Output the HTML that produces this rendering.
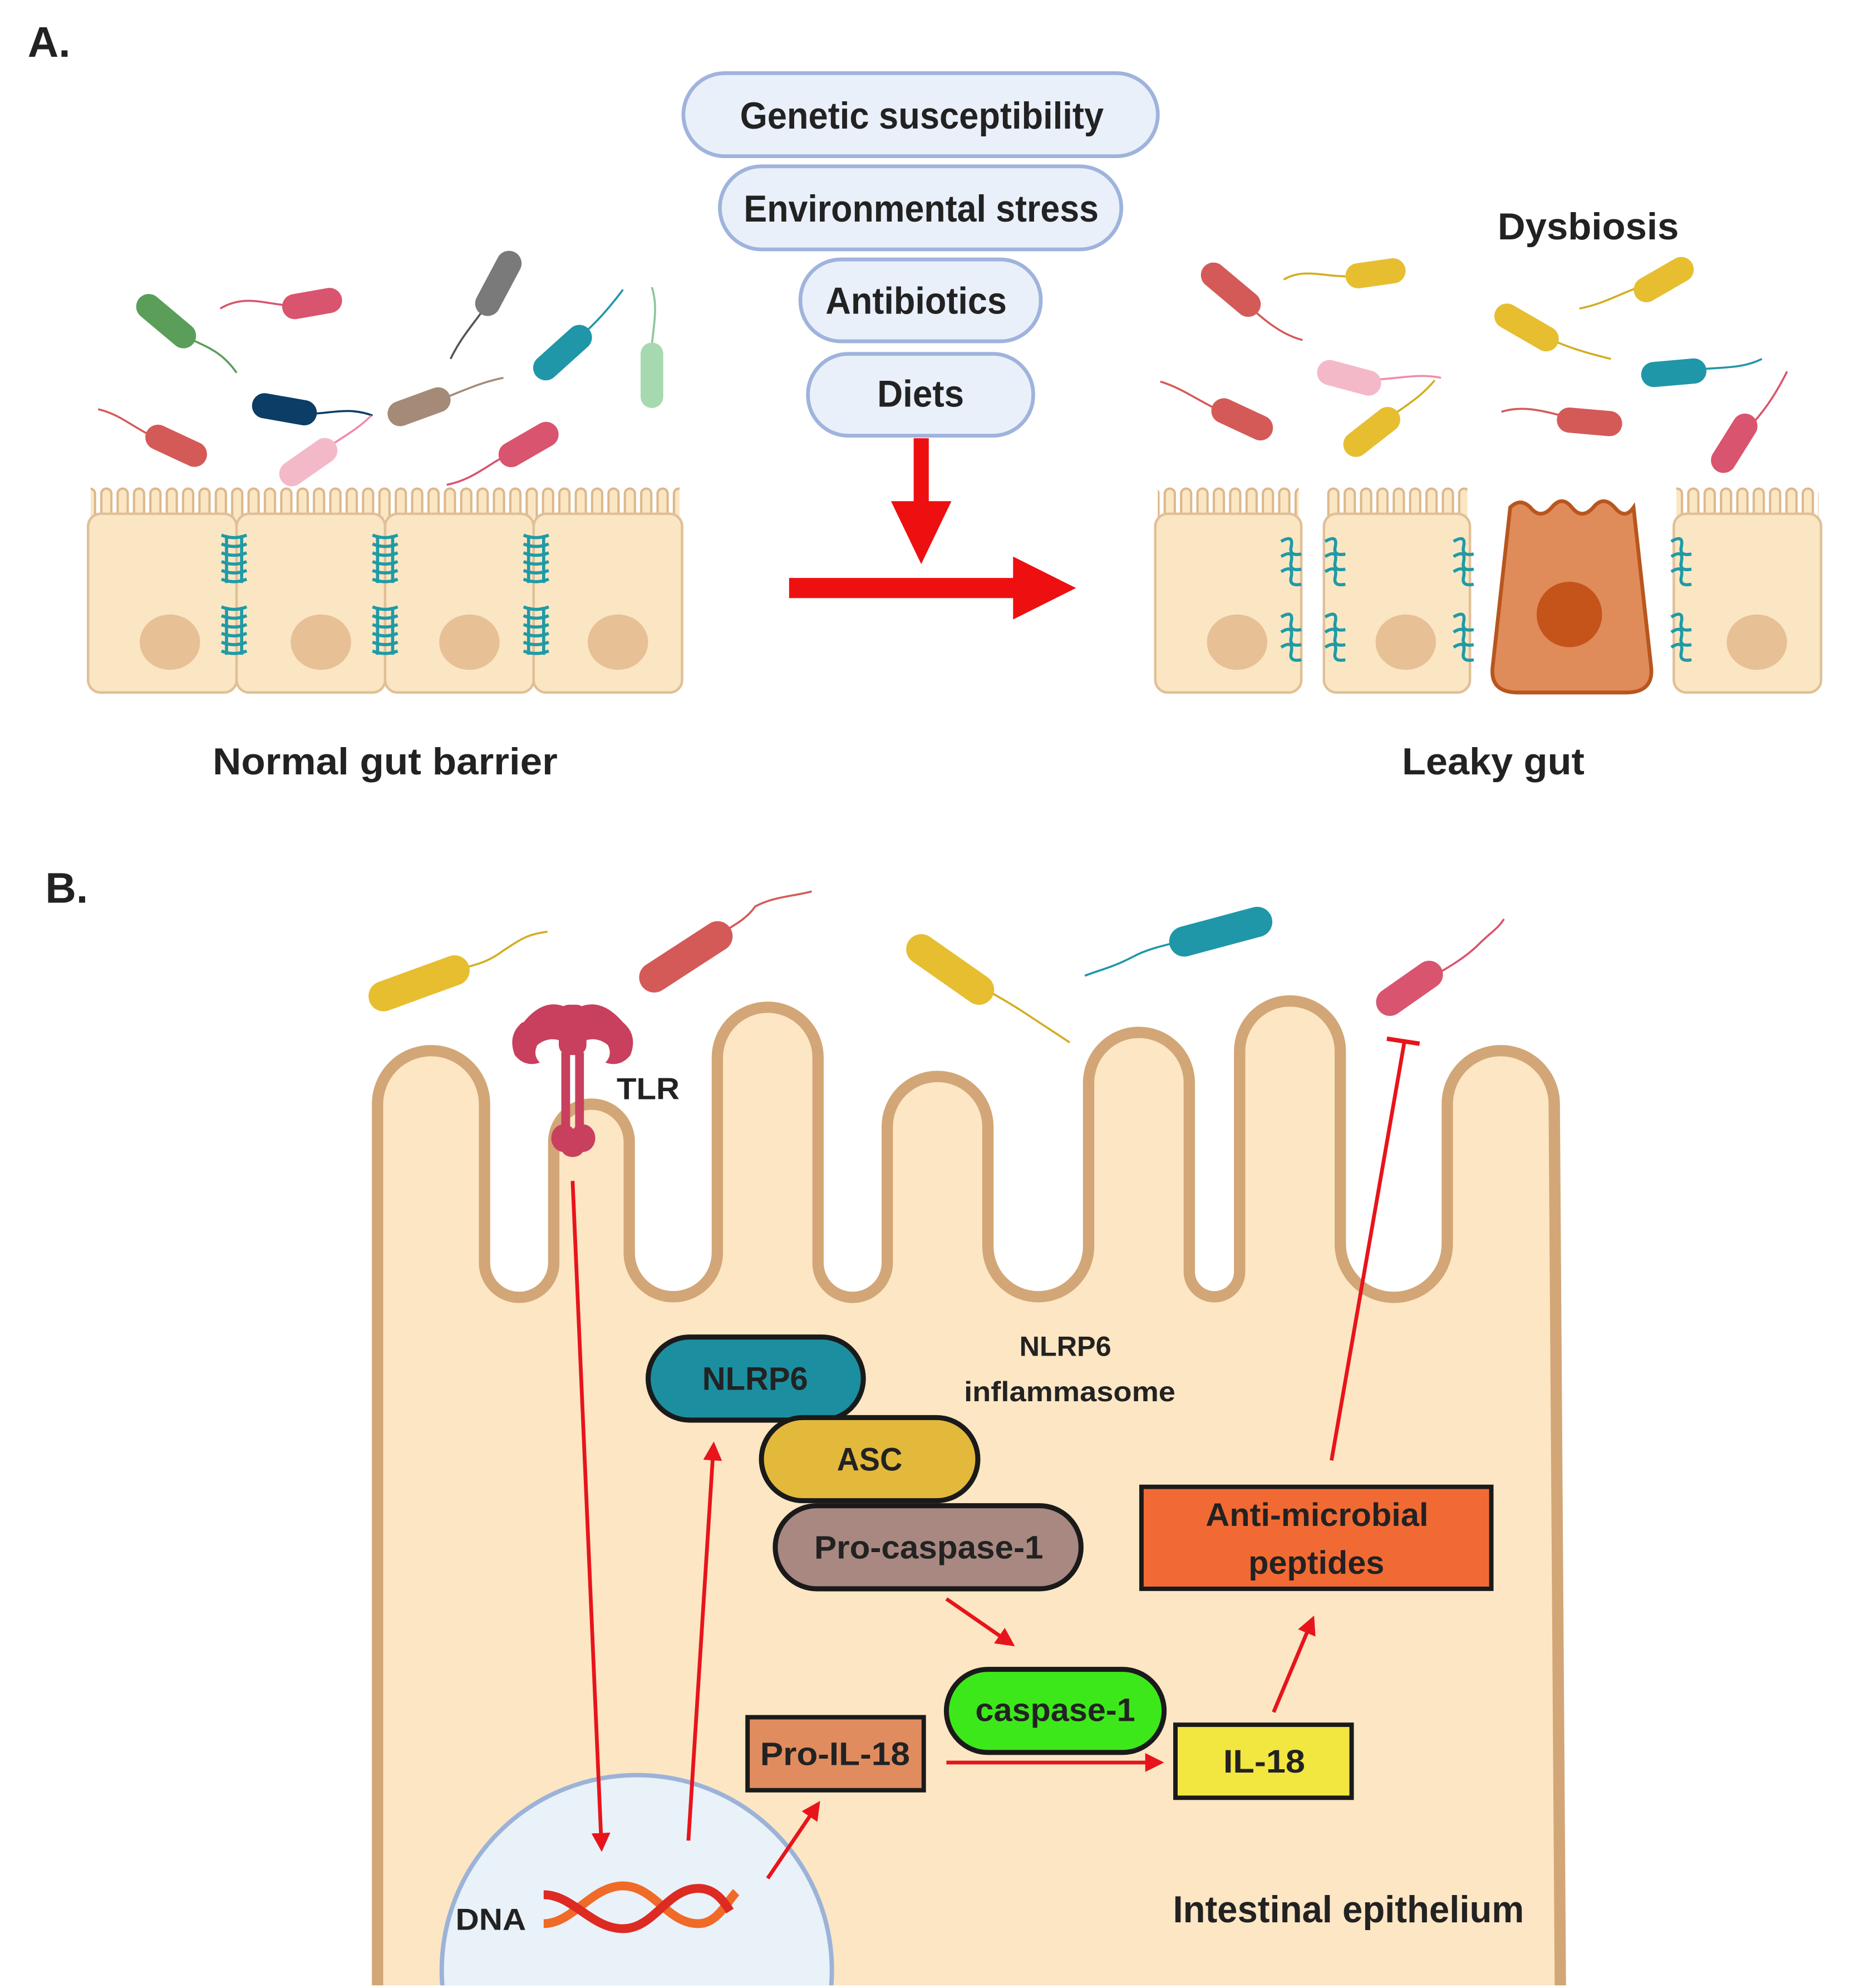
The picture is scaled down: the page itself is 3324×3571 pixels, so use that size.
<!DOCTYPE html>
<html><head><meta charset="utf-8"><style>
html,body{margin:0;padding:0;background:#fff;overflow:hidden;width:3324px;height:3571px;}
svg{display:block;}
text{font-family:"Liberation Sans",sans-serif;font-weight:bold;fill:#222;}
</style></head><body>
<svg width="3324" height="3571" viewBox="0 0 1470 1579" xmlns="http://www.w3.org/2000/svg">
<defs>
<pattern id="mv" x="0" y="386" width="13" height="30" patternUnits="userSpaceOnUse">
<path d="M2.5,30 L2.5,6 A4,4 0 0 1 10.5,6 L10.5,30" fill="#fbe6c4" stroke="#dcb88a" stroke-width="1.8"/>
</pattern>
<clipPath id="clipB"><rect x="0" y="700" width="1470" height="877"/></clipPath>
<marker id="ah" viewBox="0 0 10 10" refX="8" refY="5" markerWidth="5" markerHeight="5" orient="auto"><path d="M0,0 L10,5 L0,10 z" fill="#e8141b"/></marker>
</defs>

<!-- ===== Part A ===== -->
<text x="22" y="45" font-size="34">A.</text>

<g stroke="#9fb3dc" stroke-width="3" fill="#e9f0fa">
<rect x="543" y="58" width="377" height="66" rx="33"/>
<rect x="572" y="132" width="319" height="66" rx="33"/>
<rect x="636" y="206" width="191" height="65" rx="32"/>
<rect x="642" y="281" width="179" height="65" rx="32"/>
</g>
<text x="588" y="102" font-size="30" textLength="289" lengthAdjust="spacingAndGlyphs">Genetic susceptibility</text>
<text x="591" y="176" font-size="30" textLength="282" lengthAdjust="spacingAndGlyphs">Environmental stress</text>
<text x="656" y="249" font-size="30" textLength="144" lengthAdjust="spacingAndGlyphs">Antibiotics</text>
<text x="697" y="323" font-size="30" textLength="69" lengthAdjust="spacingAndGlyphs">Diets</text>

<rect x="726" y="348" width="12" height="52" fill="#ee0f10"/>
<path d="M708,398 L756,398 L732,448 z" fill="#ee0f10"/>
<rect x="627" y="459" width="180" height="16" fill="#ee0f10"/>
<path d="M805,442 L855,467 L805,492 z" fill="#ee0f10"/>

<!-- Left cells -->
<g>
<rect x="72" y="386" width="468" height="26" fill="url(#mv)"/>
<g fill="#fbe6c4" stroke="#e0c097" stroke-width="2">
<rect x="70" y="408" width="118" height="142" rx="10"/>
<rect x="188" y="408" width="118" height="142" rx="10"/>
<rect x="306" y="408" width="118" height="142" rx="10"/>
<rect x="424" y="408" width="118" height="142" rx="10"/>
</g>
<g fill="#e8c095">
<ellipse cx="135" cy="510" rx="24" ry="22"/><ellipse cx="255" cy="510" rx="24" ry="22"/>
<ellipse cx="373" cy="510" rx="24" ry="22"/><ellipse cx="491" cy="510" rx="24" ry="22"/>
</g>
<g fill="none" stroke="#1f9aa6" stroke-width="2.5">
<path id="tj" d="M176,425 q10,4 20,0 M176,432 q10,4 20,0 M176,439 q10,4 20,0 M176,446 q10,4 20,0 M176,453 q10,4 20,0 M176,460 q10,4 20,0 M180,425 L180,463 M192,425 L192,463"/>
<use href="#tj" transform="translate(0,57)"/>
<use href="#tj" transform="translate(120,0)"/><use href="#tj" transform="translate(120,57)"/>
<use href="#tj" transform="translate(240,0)"/><use href="#tj" transform="translate(240,57)"/>
</g>
</g>
<text x="169" y="615" font-size="30" textLength="274" lengthAdjust="spacingAndGlyphs">Normal gut barrier</text>

<!-- Right cells -->
<g>
<rect x="920" y="386" width="112" height="26" fill="url(#mv)"/>
<rect x="1054" y="386" width="112" height="26" fill="url(#mv)"/>
<rect x="1332" y="386" width="113" height="26" fill="url(#mv)"/>
<g fill="#fbe6c4" stroke="#e0c097" stroke-width="2">
<rect x="918" y="408" width="116" height="142" rx="10"/>
<rect x="1052" y="408" width="116" height="142" rx="10"/>
<rect x="1330" y="408" width="117" height="142" rx="10"/>
</g>
<path d="M1200,403 q8,-8 16,0 q8,10 17,0 q8,-10 16,0 q8,10 17,0 q8,-10 17,0 q8,10 15,0 L1312,530 q2,20 -20,20 L1206,550 q-22,0 -20,-20 z" fill="#e08c5a" stroke="#b8561e" stroke-width="3"/>
<circle cx="1247" cy="488" r="26" fill="#c4541a"/>
<g fill="#e8c095">
<ellipse cx="983" cy="510" rx="24" ry="22"/><ellipse cx="1117" cy="510" rx="24" ry="22"/><ellipse cx="1396" cy="510" rx="24" ry="22"/>
</g>
<g fill="none" stroke="#1f9aa6" stroke-width="2.5">
<path id="lj" d="M1018,430 q10,-6 8,4 q-2,8 8,6 M1018,442 q10,-6 8,4 q-2,8 8,6 M1018,454 q10,-6 8,4 q-2,8 8,6"/>
<use href="#lj" transform="translate(0,60)"/>
<use href="#lj" transform="translate(35,0)"/><use href="#lj" transform="translate(35,60)"/>
<use href="#lj" transform="translate(137,0)"/><use href="#lj" transform="translate(137,60)"/>
<use href="#lj" transform="translate(310,0)"/><use href="#lj" transform="translate(310,60)"/>
</g>
</g>
<text x="1114" y="615" font-size="30" textLength="145" lengthAdjust="spacingAndGlyphs">Leaky gut</text>
<text x="1190" y="190" font-size="30" textLength="144" lengthAdjust="spacingAndGlyphs">Dysbiosis</text>

<!-- Bacteria A -->
<g fill="none" stroke-width="1.6">
<path d="M132,255 C150,275 170,270 188,296" stroke="#5a9e5a"/>
<path d="M248,241 C220,248 200,230 175,245" stroke="#d9546e"/>
<path d="M396,225 C385,250 370,260 358,285" stroke="#555"/>
<path d="M447,280 C470,260 480,250 495,230" stroke="#1f97a8"/>
<path d="M518,295 C515,270 525,250 518,228" stroke="#8cc59a"/>
<path d="M226,325 C250,335 270,320 296,330" stroke="#0b3d66"/>
<path d="M333,323 C360,315 375,305 400,300" stroke="#a58a78"/>
<path d="M140,354 C110,345 100,330 78,325" stroke="#d45a58"/>
<path d="M245,367 C265,350 280,345 295,330" stroke="#f08ca8"/>
<path d="M420,353 C390,365 380,380 355,385" stroke="#d9546e"/>
<path d="M978,230 C1000,250 1015,265 1035,270" stroke="#d45a58"/>
<path d="M1093,217 C1060,225 1040,210 1020,222" stroke="#d4ad20"/>
<path d="M1322,222 C1290,230 1280,240 1255,245" stroke="#d4ad20"/>
<path d="M1213,260 C1240,275 1260,280 1280,285" stroke="#d4ad20"/>
<path d="M1072,300 C1100,305 1120,295 1145,300" stroke="#f08ca8"/>
<path d="M987,333 C960,325 945,310 922,303" stroke="#d45a58"/>
<path d="M1090,343 C1110,325 1125,320 1140,302" stroke="#d4ad20"/>
<path d="M1330,296 C1360,290 1380,295 1400,285" stroke="#1f97a8"/>
<path d="M1263,335 C1235,330 1215,320 1193,327" stroke="#d45a58"/>
<path d="M1378,352 C1400,330 1410,315 1420,295" stroke="#d9546e"/>
</g>
<g>
<rect x="-28" y="-10" width="56" height="20" rx="10" fill="#5a9e5a" transform="translate(132,255) rotate(40)"/>
<rect x="-24" y="-10" width="48" height="20" rx="10" fill="#d9546e" transform="translate(248,241) rotate(-10)"/>
<rect x="-28" y="-10" width="56" height="20" rx="10" fill="#7a7a7a" transform="translate(396,225) rotate(-62)"/>
<rect x="-28" y="-10" width="56" height="20" rx="10" fill="#1f97a8" transform="translate(447,280) rotate(-42)"/>
<rect x="-26" y="-9" width="52" height="18" rx="9" fill="#a6d9b0" transform="translate(518,298) rotate(-90)"/>
<rect x="-26" y="-10" width="52" height="20" rx="10" fill="#0b3d66" transform="translate(226,325) rotate(10)"/>
<rect x="-26" y="-10" width="52" height="20" rx="10" fill="#a58a78" transform="translate(333,323) rotate(-20)"/>
<rect x="-26" y="-10" width="52" height="20" rx="10" fill="#d45a58" transform="translate(140,354) rotate(25)"/>
<rect x="-26" y="-10" width="52" height="20" rx="10" fill="#f4b9c8" transform="translate(245,367) rotate(-35)"/>
<rect x="-26" y="-10" width="52" height="20" rx="10" fill="#d9546e" transform="translate(420,353) rotate(-30)"/>
<rect x="-28" y="-10" width="56" height="20" rx="10" fill="#d45a58" transform="translate(978,230) rotate(40)"/>
<rect x="-24" y="-10" width="48" height="20" rx="10" fill="#e6be30" transform="translate(1093,217) rotate(-8)"/>
<rect x="-26" y="-10" width="52" height="20" rx="10" fill="#e6be30" transform="translate(1322,222) rotate(-30)"/>
<rect x="-28" y="-10" width="56" height="20" rx="10" fill="#e6be30" transform="translate(1213,260) rotate(30)"/>
<rect x="-26" y="-10" width="52" height="20" rx="10" fill="#f4b9c8" transform="translate(1072,300) rotate(15)"/>
<rect x="-26" y="-10" width="52" height="20" rx="10" fill="#d45a58" transform="translate(987,333) rotate(25)"/>
<rect x="-26" y="-10" width="52" height="20" rx="10" fill="#e6be30" transform="translate(1090,343) rotate(-38)"/>
<rect x="-26" y="-10" width="52" height="20" rx="10" fill="#1f97a8" transform="translate(1330,296) rotate(-5)"/>
<rect x="-26" y="-10" width="52" height="20" rx="10" fill="#d45a58" transform="translate(1263,335) rotate(5)"/>
<rect x="-26" y="-10" width="52" height="20" rx="10" fill="#d9546e" transform="translate(1378,352) rotate(-58)"/>
</g>

<!-- ===== Part B ===== -->
<text x="36" y="717" font-size="34">B.</text>

<g clip-path="url(#clipB)">
<path d="M300,1600 L300,877 A42.5,42.5 0 0 1 385,877 L385,1003 A27.5,27.5 0 0 0 440,1003 L440,907 A30,30 0 0 1 500,907 L500,995 A35,35 0 0 0 570,995 L570,840 A40,40 0 0 1 650,840 L650,1003 A27.5,27.5 0 0 0 705,1003 L705,895 A40,40 0 0 1 785,895 L785,990 A40,40 0 0 0 865,990 L865,860 A40,40 0 0 1 945,860 L945,1010 A20,20 0 0 0 985,1010 L985,835 A40,40 0 0 1 1065,835 L1065,988 A42.5,42.5 0 0 0 1150,988 L1150,877 A42.5,42.5 0 0 1 1235,877 L1240,1600 z" fill="#fce6c4" stroke="#d2a676" stroke-width="9" stroke-linejoin="round"/>
<circle cx="506" cy="1565" r="155" fill="#e9f1f9" stroke="#9cb3d8" stroke-width="3.5"/>
</g>

<!-- DNA -->
<g fill="none" stroke-width="7">
<path d="M432,1528 C455,1528 470,1498 495,1498 C520,1498 530,1528 555,1528 C570,1528 578,1510 585,1503" stroke="#f06a28"/>
<path d="M432,1505 C455,1505 470,1532 495,1532 C520,1532 530,1500 555,1500 C568,1500 575,1510 580,1518" stroke="#dd2a22"/>
</g>
<text x="362" y="1533" font-size="24" textLength="56" lengthAdjust="spacingAndGlyphs">DNA</text>

<!-- TLR -->
<g fill="#c8405e">
<path d="M415,812 q-12,10 -6,26 q8,10 20,6 q-6,-6 -2,-14 q10,-8 22,-2 L450,800 q-18,-8 -34,12 z"/>
<path d="M495,812 q12,10 6,26 q-8,10 -20,6 q6,-6 2,-14 q-10,-8 -22,-2 L460,800 q18,-8 35,12 z"/>
<rect x="444" y="798" width="22" height="40" rx="8"/>
<rect x="446" y="836" width="7" height="62"/>
<rect x="457" y="836" width="7" height="62"/>
<ellipse cx="448" cy="904" rx="10" ry="11"/><ellipse cx="463" cy="904" rx="10" ry="11"/>
<ellipse cx="455" cy="912" rx="9" ry="7"/>
</g>
<text x="490" y="873" font-size="24" textLength="50" lengthAdjust="spacingAndGlyphs">TLR</text>

<!-- Nodes -->
<g stroke="#1a1a1a" stroke-width="4">
<rect x="515" y="1062" width="171" height="66" rx="33" fill="#1b8fa0"/>
<rect x="605" y="1126" width="172" height="66" rx="33" fill="#e3b93c"/>
<rect x="616" y="1196" width="243" height="66" rx="33" fill="#a88880"/>
<rect x="752" y="1326" width="173" height="66" rx="33" fill="#3de81a"/>
</g>
<g stroke="#1a1a1a" stroke-width="3.5">
<rect x="594" y="1364" width="140" height="58" fill="#e08c5f"/>
<rect x="934" y="1370" width="140" height="58" fill="#f2e640"/>
<rect x="907" y="1181" width="278" height="81" fill="#f26a33"/>
</g>
<text x="558" y="1104" font-size="26" textLength="84" lengthAdjust="spacingAndGlyphs">NLRP6</text>
<text x="665" y="1168" font-size="26" textLength="52" lengthAdjust="spacingAndGlyphs">ASC</text>
<text x="647" y="1238" font-size="26" textLength="182" lengthAdjust="spacingAndGlyphs">Pro-caspase-1</text>
<text x="775" y="1367" font-size="26" textLength="127" lengthAdjust="spacingAndGlyphs">caspase-1</text>
<text x="604" y="1402" font-size="26" textLength="119" lengthAdjust="spacingAndGlyphs">Pro-IL-18</text>
<text x="972" y="1408" font-size="26" textLength="65" lengthAdjust="spacingAndGlyphs">IL-18</text>
<text x="958" y="1212" font-size="26" textLength="177" lengthAdjust="spacingAndGlyphs">Anti-microbial</text>
<text x="992" y="1250" font-size="26" textLength="108" lengthAdjust="spacingAndGlyphs">peptides</text>
<text x="810" y="1077" font-size="22" textLength="73" lengthAdjust="spacingAndGlyphs">NLRP6</text>
<text x="766" y="1113" font-size="22" textLength="168" lengthAdjust="spacingAndGlyphs">inflammasome</text>
<text x="932" y="1527" font-size="30" textLength="279" lengthAdjust="spacingAndGlyphs">Intestinal epithelium</text>

<!-- Red connectors -->
<g stroke="#e8141b" stroke-width="3" fill="none" marker-end="url(#ah)">
<line x1="455" y1="938" x2="478" y2="1468"/>
<line x1="547" y1="1462" x2="567" y2="1148"/>
<line x1="610" y1="1492" x2="650" y2="1433"/>
<line x1="752" y1="1270" x2="804" y2="1306"/>
<line x1="752" y1="1400" x2="922" y2="1400"/>
<line x1="1012" y1="1360" x2="1043" y2="1286"/>
</g>
<line x1="1058" y1="1160" x2="1116" y2="827" stroke="#e8141b" stroke-width="3"/>
<line x1="1102" y1="825" x2="1128" y2="829" stroke="#e8141b" stroke-width="3.5"/>

<!-- Bacteria B -->
<g fill="none" stroke-width="1.6">
<path d="M333,781 C370,765 380,770 400,755 C415,745 420,742 435,740" stroke="#d4ad20"/>
<path d="M545,760 C570,740 590,735 600,720 C615,712 630,712 645,708" stroke="#d45a58"/>
<path d="M755,770 C790,790 800,795 815,805 C830,815 838,820 850,828" stroke="#d4ad20"/>
<path d="M970,740 C930,750 915,752 900,760 C885,768 875,770 862,775" stroke="#1f97a8"/>
<path d="M1120,785 C1150,770 1165,760 1175,750 C1185,740 1190,738 1195,730" stroke="#d9546e"/>
</g>
<rect x="-42" y="-12" width="84" height="24" rx="12" fill="#e6be30" transform="translate(333,781) rotate(-20)"/>
<rect x="-42" y="-12" width="84" height="24" rx="12" fill="#d45a58" transform="translate(545,760) rotate(-33)"/>
<rect x="-40" y="-12" width="80" height="24" rx="12" fill="#e6be30" transform="translate(755,770) rotate(35)"/>
<rect x="-42" y="-12" width="84" height="24" rx="12" fill="#1f97a8" transform="translate(970,740) rotate(-15)"/>
<rect x="-30" y="-11" width="60" height="22" rx="11" fill="#d9546e" transform="translate(1120,785) rotate(-35)"/>
</svg>
</body></html>
